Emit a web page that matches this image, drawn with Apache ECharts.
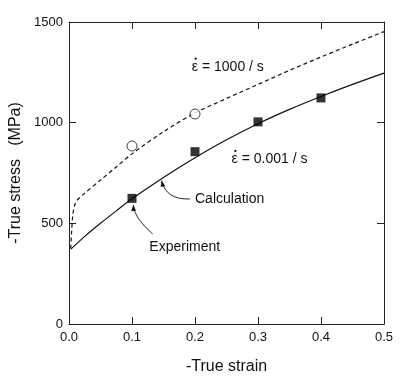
<!DOCTYPE html>
<html>
<head>
<meta charset="utf-8">
<script src="https://cdn.jsdelivr.net/npm/echarts@6/dist/echarts.min.js"></script>
<style>
  html, body { margin: 0; padding: 0; background: #fff; }
  #chart { width: 408px; height: 376px; }
</style>
</head>
<body>
<div id="chart"></div>
<script>
// calculated curve, strain rate 0.001 / s  [strain, stress]
const calcSlow = [
  [0.003, 372], [0.025, 435], [0.05, 500], [0.075, 562], [0.1, 622],
  [0.15, 728], [0.2, 826], [0.25, 915], [0.3, 995], [0.35, 1066],
  [0.4, 1130], [0.45, 1190], [0.5, 1246]
];
// calculated curve, strain rate 1000 / s
const calcFast = [
  [0.0027, 375], [0.004, 450], [0.006, 540], [0.009, 590], [0.013, 615],
  [0.025, 650], [0.05, 715], [0.075, 780], [0.1, 845], [0.15, 955],
  [0.2, 1048], [0.25, 1120], [0.3, 1190], [0.35, 1260], [0.4, 1326],
  [0.45, 1390], [0.5, 1452]
];
// experiments
const expSlow = [[0.1, 624], [0.2, 856], [0.3, 1004], [0.4, 1123]];
const expFast = [[0.1, 884], [0.2, 1043]];

const xTickLabels = ['0.0', '0.1', '0.2', '0.3', '0.4', '0.5'];
const yTicks = [0, 500, 1000, 1500];

const FONT = '"Liberation Sans", Arial, Helvetica, sans-serif';
const INK = '#111';

const chart = echarts.init(document.getElementById('chart'));

function axis(extra) {
  return Object.assign({
    type: 'value',
    axisLine: { show: true, onZero: false, lineStyle: { color: '#222', width: 1 } },
    axisTick: { show: true, inside: true, length: 7, lineStyle: { color: '#222', width: 1 } },
    splitLine: { show: false }
  }, extra);
}

const option = {
  animation: false,
  backgroundColor: '#fff',
  textStyle: { fontFamily: FONT },
  grid: { left: 69, right: 24, top: 22, bottom: 52, outerBoundsMode: 'none', containLabel: false },
  xAxis: [
    axis({
      min: 0, max: 0.5, interval: 0.1,
      name: '-True strain', nameLocation: 'middle', nameGap: 35,
      nameTextStyle: { fontSize: 16, color: INK, fontFamily: FONT },
      axisLabel: {
        fontSize: 13, color: INK, margin: 7, fontFamily: FONT,
        formatter: v => xTickLabels[Math.round(v * 10)]
      }
    }),
    axis({
      position: 'top', min: 0, max: 0.5, interval: 0.1,
      axisLabel: { show: false }
    })
  ],
  yAxis: [
    axis({
      min: yTicks[0], max: yTicks[yTicks.length - 1], interval: 500,
      name: '-True stress   (MPa)', nameLocation: 'middle', nameGap: 40,
      nameTextStyle: { fontSize: 16, color: INK, fontFamily: FONT },
      axisLabel: { fontSize: 13, color: INK, margin: 6, fontFamily: FONT, formatter: v => String(v) }
    }),
    axis({
      position: 'right', min: 0, max: 1500, interval: 500,
      axisLabel: { show: false }
    })
  ],
  series: [
    {
      type: 'line', data: calcSlow, showSymbol: false, smooth: 0.3,
      lineStyle: { color: INK, width: 1.2 }
    },
    {
      type: 'line', data: calcFast, showSymbol: false, smooth: 0.3,
      lineStyle: { color: INK, width: 1.2, type: [4, 3] }
    },
    {
      type: 'scatter', data: expSlow, symbol: 'rect', symbolSize: 9,
      itemStyle: { color: '#000' }, z: 5
    },
    {
      type: 'scatter', data: expFast, symbol: 'circle', symbolSize: 10,
      itemStyle: { color: '#fff', borderColor: INK, borderWidth: 1 }, z: 5
    }
  ]
};

chart.setOption(option);

// annotations, anchored in data coordinates
const labels = [
  { text: '\u03B5 = 1000 / s', at: [0.195, 1278], dot: true },
  { text: '\u03B5 = 0.001 / s', at: [0.258, 820], dot: true },
  { text: 'Calculation', at: [0.2, 619] },
  { text: 'Experiment', at: [0.1275, 384] }
];
const arrows = [
  { from: [0.192, 621], ctrl: [0.154, 616], to: [0.147, 712] },
  { from: [0.1329, 447], ctrl: [0.1032, 527], to: [0.102, 591] }
];

const px = p => chart.convertToPixel({ gridIndex: 0 }, p);
const graphic = [];

labels.forEach(l => {
  const p = px(l.at);
  graphic.push({
    type: 'text', x: p[0], y: p[1], z: 10,
    style: {
      text: l.text, fontSize: 14, fontFamily: FONT, fill: INK,
      verticalAlign: 'middle', align: 'left'
    }
  });
  if (l.dot) {
    // dot over epsilon (time derivative)
    graphic.push({
      type: 'circle', z: 10,
      shape: { cx: p[0] + 3.8, cy: p[1] - 8, r: 1.1 },
      style: { fill: INK }
    });
  }
});

arrows.forEach(a => {
  const s = px(a.from), c = px(a.ctrl), e = px(a.to);
  graphic.push({
    type: 'bezierCurve', z: 10,
    shape: { x1: s[0], y1: s[1], cpx1: c[0], cpy1: c[1], x2: e[0], y2: e[1] },
    style: { stroke: INK, lineWidth: 0.9, fill: null }
  });
  // arrow head along the end tangent
  let dx = e[0] - c[0], dy = e[1] - c[1];
  const len = Math.hypot(dx, dy);
  dx /= len; dy /= len;
  const L = 6, W = 2.4;
  const bx = e[0] - dx * L, by = e[1] - dy * L;
  graphic.push({
    type: 'polygon', z: 10,
    shape: { points: [[e[0], e[1]], [bx - dy * W, by + dx * W], [bx + dy * W, by - dx * W]] },
    style: { fill: INK }
  });
});

chart.setOption({ graphic: graphic });
</script>
</body>
</html>
